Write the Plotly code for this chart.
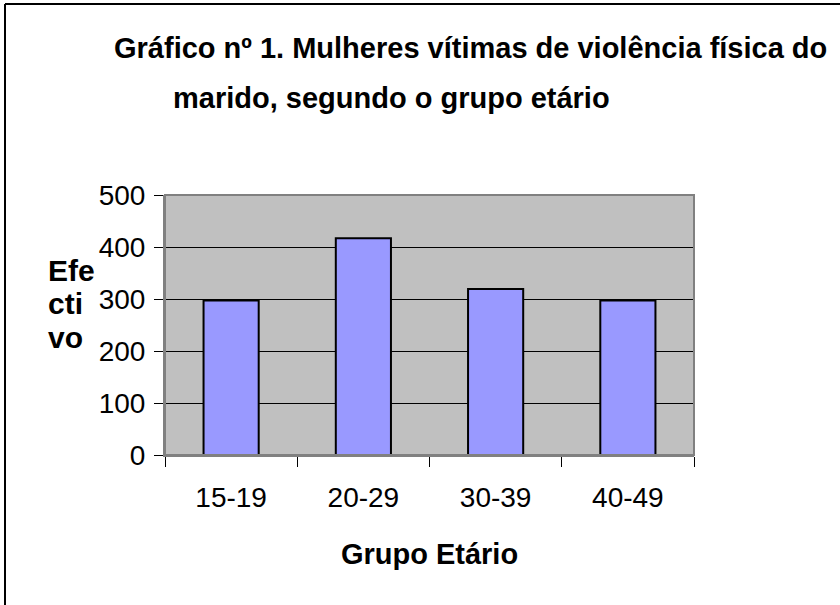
import plotly.graph_objects as go

categories = ["15-19", "20-29", "30-39", "40-49"]
values = [297, 417, 319, 297]
y_ticks = [0, 100, 200, 300, 400, 500]

title_line1 = "Gráfico nº 1. Mulheres vítimas de violência física do"
title_line2 = "marido, segundo o grupo etário"
x_title = "Grupo Etário"
y_title_lines = ["Efe", "cti", "vo"]

W, H = 840, 605
L, R, T, B = 165, 694, 195, 455  # plot area in pixels

def px(x):
    return (x - L) / (R - L)

def py(y):
    return (B - y) / (B - T)

FONT = "Liberation Sans, Arial, sans-serif"

fig = go.Figure()
fig.add_trace(go.Bar(
    x=categories, y=values,
    marker=dict(color="#9999FF", line=dict(color="black", width=2)),
))

annotations = [
    dict(text="<b>" + title_line1 + "</b>", xref="paper", yref="paper",
         x=px(112), y=py(48), xanchor="left", yanchor="middle", showarrow=False,
         font=dict(size=29, family=FONT)),
    dict(text="<b>" + title_line2 + "</b>", xref="paper", yref="paper",
         x=px(171), y=py(98), xanchor="left", yanchor="middle", showarrow=False,
         font=dict(size=29, family=FONT)),
]
for i, line in enumerate(y_title_lines):
    annotations.append(dict(
        text="<b>" + line + "</b>", xref="paper", yref="paper",
        x=px(46), y=py(270 + 33.5 * i), xanchor="left", yanchor="middle",
        showarrow=False, font=dict(size=30, family=FONT)))

fig.update_layout(
    width=W, height=H,
    autosize=False,
    margin=dict(l=L, r=W - R, t=T, b=H - B, pad=0, autoexpand=False),
    paper_bgcolor="white",
    plot_bgcolor="#C0C0C0",
    bargap=0.583,
    showlegend=False,
    font=dict(family=FONT, color="black"),
    xaxis=dict(
        type="category",
        tickson="boundaries",
        ticks="outside", ticklen=10, tickcolor="black", tickwidth=1,
        tickfont=dict(size=28, family=FONT),
        showgrid=False,
        showline=True, linecolor="#808080", linewidth=2,
        ticklabelstandoff=16,
        automargin=False,
        title=dict(text="<b>" + x_title + "</b>", font=dict(size=29, family=FONT), standoff=32),
    ),
    yaxis=dict(
        range=[0, 500],
        tickvals=y_ticks,
        ticks="outside", ticklen=9, tickcolor="black", tickwidth=1,
        tickfont=dict(size=28, family=FONT),
        showgrid=True, gridcolor="black", gridwidth=1,
        showline=True, linecolor="#808080", linewidth=2,
        zeroline=False,
        automargin=False,
        ticklabelstandoff=3,
    ),
    shapes=[
        dict(type="rect", xref="paper", yref="paper", x0=0, x1=1, y0=0, y1=1,
             line=dict(color="#808080", width=2), layer="above"),
        dict(type="line", xref="paper", yref="paper",
             x0=px(5), x1=px(840), y0=py(4), y1=py(4), line=dict(color="black", width=2)),
        dict(type="line", xref="paper", yref="paper",
             x0=px(5), x1=px(5), y0=py(4), y1=py(605), line=dict(color="black", width=2)),
    ],
    annotations=annotations,
)

fig.write_html(
    "out.html",
    config={"displayModeBar": False},
    post_script="document.body.style.margin='0px';document.body.style.overflow='hidden';",
)
